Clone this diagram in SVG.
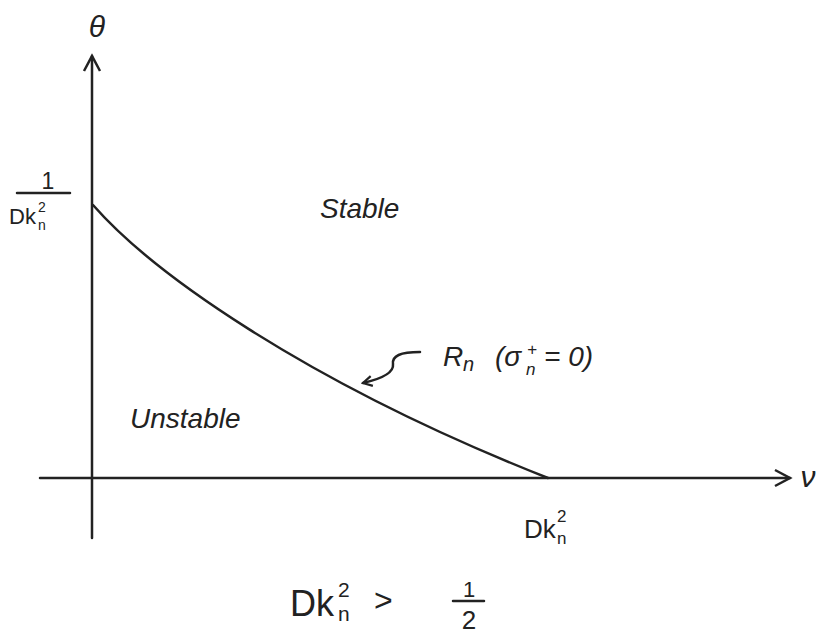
<svg xmlns="http://www.w3.org/2000/svg" width="830" height="636" viewBox="0 0 830 636">
<style>
.ln{stroke:#222;stroke-width:2.5;fill:none;stroke-linecap:round;stroke-linejoin:round}
.t{font-family:"Liberation Sans",Arial,sans-serif;fill:#222}
.i{font-style:italic}
</style>
<defs>
<marker id="ah" viewBox="0 0 12 12" refX="10" refY="6" markerWidth="12" markerHeight="12" markerUnits="userSpaceOnUse" orient="auto">
<path d="M1,1 L10,6 L1,11" fill="none" stroke="#222" stroke-width="2.2"/>
</marker>
<marker id="ah2" viewBox="0 0 20 20" refX="17" refY="10" markerWidth="20" markerHeight="20" markerUnits="userSpaceOnUse" orient="auto">
<path d="M2,2 L17,10 L2,18" fill="none" stroke="#222" stroke-width="2.5"/>
</marker>
</defs>
<rect width="830" height="636" fill="#fff"/>
<g id="connectors">
<line class="ln" x1="92" y1="538" x2="92" y2="56" marker-end="url(#ah2)"/>
<line class="ln" x1="40" y1="478" x2="790" y2="478" marker-end="url(#ah2)"/>
<path class="ln" d="M93,205 C150,270 300,380 548,478" stroke-width="3"/>
<path class="ln" d="M420,352 C400,352 392,356 393,364 C394,372 385,378 363,383" marker-end="url(#ah)"/>
</g>
<g id="axis-labels">
<text class="t i" x="97" y="37" font-size="30" text-anchor="middle">θ</text>
<text class="t i" x="808" y="487" font-size="30" text-anchor="middle">ν</text>
</g>
<g id="y-intercept">
<text class="t" x="48" y="189" font-size="23" text-anchor="middle">1</text>
<line class="ln" x1="17" y1="193" x2="70" y2="193" stroke-width="2"/>
<text class="t" x="9" y="224" font-size="22">Dk</text>
<text class="t" x="38" y="212" font-size="14">2</text>
<text class="t" x="38" y="230" font-size="14">n</text>
</g>
<g id="stable">
<text class="t i" x="320" y="218" font-size="28">Stable</text>
</g>
<g id="unstable">
<text class="t i" x="130" y="428" font-size="28">Unstable</text>
</g>
<g id="rn-label">
<text class="t i" x="443" y="366" font-size="28">R</text>
<text class="t i" x="463" y="371" font-size="20">n</text>
<text class="t i" x="495" y="366" font-size="28">(σ</text>
<text class="t i" x="527" y="355" font-size="17">+</text>
<text class="t i" x="526" y="375" font-size="17">n</text>
<text class="t i" x="544" y="366" font-size="28">= 0)</text>
</g>
<g id="x-intercept">
<text class="t" x="524" y="538" font-size="26">Dk</text>
<text class="t" x="557" y="522" font-size="17">2</text>
<text class="t" x="557" y="544" font-size="17">n</text>
</g>
<g id="condition">
<text class="t" x="290" y="616" font-size="36">Dk</text>
<text class="t" x="338" y="597" font-size="21">2</text>
<text class="t" x="338" y="621" font-size="21">n</text>
<text class="t" x="374" y="611" font-size="32">&gt;</text>
<text class="t" x="469" y="597" font-size="22" text-anchor="middle">1</text>
<line class="ln" x1="453" y1="601" x2="484" y2="601" stroke-width="2"/>
<text class="t" x="469" y="629" font-size="26" text-anchor="middle">2</text>
</g>
</svg>
